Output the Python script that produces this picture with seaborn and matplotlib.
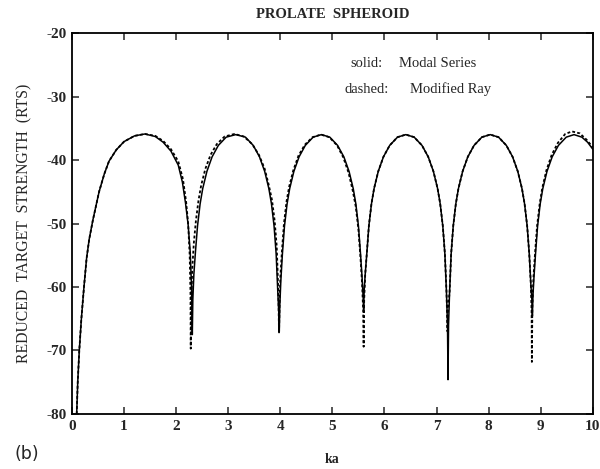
"""
Prolate spheroid RTS vs ka - modal series vs modified ray
"""
import matplotlib
matplotlib.use('Agg')
import matplotlib.pyplot as plt
import seaborn as sns
import pandas as pd

# solid curve: modal series
solid_ka = [0.09, 0.11, 0.14, 0.18, 0.23, 0.28, 0.33, 0.40, 0.52, 0.62, 0.71, 0.85, 1.00, 1.20, 1.40,
            1.60, 1.75, 1.90, 2.04, 2.12, 2.18, 2.23, 2.27, 2.295, 2.31,
            2.32, 2.34, 2.37, 2.41, 2.46, 2.51, 2.59, 2.69, 2.81, 2.96, 3.145, 3.33, 3.48, 3.60, 3.70,
            3.78, 3.83, 3.88, 3.92, 3.95, 3.97, 3.98,
            3.99, 4.01, 4.04, 4.08, 4.13, 4.18, 4.26, 4.36, 4.48, 4.63, 4.79, 4.95, 5.10, 5.22, 5.32,
            5.40, 5.45, 5.50, 5.54, 5.57, 5.59, 5.60,
            5.61, 5.63, 5.66, 5.70, 5.75, 5.80, 5.88, 5.98, 6.10, 6.25, 6.41, 6.57, 6.72, 6.84, 6.94,
            7.02, 7.07, 7.12, 7.16, 7.19, 7.21, 7.22,
            7.23, 7.25, 7.28, 7.32, 7.37, 7.42, 7.50, 7.60, 7.72, 7.87, 8.03, 8.19, 8.34, 8.46, 8.56,
            8.64, 8.69, 8.74, 8.78, 8.81, 8.83, 8.84,
            8.85, 8.87, 8.90, 8.94, 8.99, 9.04, 9.12, 9.22, 9.34, 9.49, 9.64, 9.79, 9.90, 10.0]
solid_rts = [-80, -75, -70, -65, -60, -55.5, -52.5, -49.5, -45, -42.2, -40.2, -38.4, -37.1, -36.2, -35.9,
             -36.3, -37.2, -38.6, -40.8, -43.5, -46.8, -50.2, -54.5, -60, -67.5,
             -62, -58, -54.5, -50.4, -46.9, -44.5, -41.8, -39.5, -37.7, -36.4, -36.0, -36.4, -37.7, -39.5, -41.8,
             -44.5, -46.9, -50.4, -54.8, -60.5, -64, -67.0,
             -63, -59, -54.8, -50.4, -46.9, -44.5, -41.8, -39.5, -37.7, -36.4, -36.0, -36.4, -37.7, -39.5, -41.8,
             -44.5, -46.9, -50.4, -54.8, -58.5, -61.5, -63.6,
             -60.5, -58, -54.8, -50.4, -46.9, -44.5, -41.8, -39.5, -37.7, -36.4, -36.0, -36.4, -37.7, -39.5, -41.8,
             -44.5, -46.9, -50.4, -54.8, -60.8, -66, -74.6,
             -66, -60.8, -54.8, -50.4, -46.9, -44.5, -41.8, -39.5, -37.7, -36.4, -36.0, -36.4, -37.7, -39.5, -41.8,
             -44.5, -46.9, -50.4, -54.8, -59.5, -62, -64.5,
             -61.5, -58.5, -54.8, -50.4, -46.9, -44.5, -41.8, -39.5, -37.7, -36.4, -36.0, -36.4, -37.2, -38.3]

# dashed curve: modified ray
dashed_ka = [0.09, 0.11, 0.14, 0.18, 0.23, 0.28, 0.33, 0.40, 0.52, 0.62, 0.71, 0.85, 1.00, 1.20, 1.40,
             1.60, 1.75, 1.90, 2.04, 2.13, 2.19, 2.23, 2.26, 2.275, 2.28,
             2.29, 2.31, 2.34, 2.38, 2.43, 2.48, 2.56, 2.66, 2.78, 2.93, 3.12, 3.30, 3.46, 3.59, 3.70,
             3.78, 3.84, 3.89, 3.93, 3.95, 3.965, 3.975,
             3.985, 4.00, 4.03, 4.07, 4.12, 4.17, 4.25, 4.35, 4.47, 4.62, 4.78, 4.94, 5.09, 5.21, 5.31,
             5.39, 5.45, 5.50, 5.54, 5.57, 5.59, 5.60,
             5.61, 5.63, 5.66, 5.70, 5.75, 5.80, 5.88, 5.98, 6.10, 6.25, 6.41, 6.57, 6.72, 6.84, 6.94,
             7.02, 7.07, 7.12, 7.16, 7.19, 7.21,
             7.225, 7.25, 7.28, 7.32, 7.37, 7.42, 7.50, 7.60, 7.72, 7.87, 8.03, 8.19, 8.34, 8.46, 8.56,
             8.64, 8.69, 8.74, 8.78, 8.81, 8.825, 8.83,
             8.84, 8.86, 8.89, 8.93, 8.98, 9.03, 9.11, 9.21, 9.33, 9.47, 9.60, 9.75, 9.88, 10.0]
dashed_rts = [-80, -75, -70, -65, -60, -55.5, -52.5, -49.5, -45, -42.2, -40.2, -38.4, -37.1, -36.2, -35.9,
              -36.2, -37.0, -38.3, -40.2, -43.0, -46.5, -50, -55, -61, -69.7,
              -62, -57, -53, -49.5, -46.3, -44, -41.4, -39.2, -37.5, -36.3, -35.9, -36.3, -37.5, -39.2, -41.4,
              -44, -46.3, -49.5, -53.5, -58, -62, -67.3,
              -63, -58.5, -54.5, -50, -46.5, -44.2, -41.6, -39.3, -37.6, -36.4, -36.0, -36.4, -37.7, -39.6, -42,
              -44.8, -47.4, -51, -55.5, -59.5, -63.5, -69.4,
              -62, -58, -54.8, -50.4, -46.9, -44.5, -41.8, -39.5, -37.7, -36.4, -36.0, -36.4, -37.7, -39.5, -41.8,
              -44.5, -46.9, -50.4, -54.8, -60.5, -67,
              -63, -60.8, -54.8, -50.4, -46.9, -44.5, -41.8, -39.5, -37.7, -36.4, -36.0, -36.4, -37.7, -39.5, -41.8,
              -44.5, -46.9, -50.4, -54.8, -59.5, -64, -71.8,
              -63, -58.5, -54.8, -50.4, -46.9, -44.4, -41.6, -39.2, -37.3, -35.9, -35.5, -35.8, -36.8, -38.0]

x_ticks = [0, 1, 2, 3, 4, 5, 6, 7, 8, 9, 10]
y_ticks = [-80, -70, -60, -50, -40, -30, -20]

sns.set_style('ticks')
plt.rcParams['font.family'] = ['Liberation Serif', 'DejaVu Serif']

fig = plt.figure(figsize=(6.0, 4.69), dpi=100)
ax = fig.add_axes([0.12, 0.1173, 0.868, 0.8123])

solid_df = pd.DataFrame({'ka': solid_ka, 'rts': solid_rts})
dashed_df = pd.DataFrame({'ka': dashed_ka, 'rts': dashed_rts})

sns.lineplot(data=dashed_df, x='ka', y='rts', ax=ax, color='black', linewidth=1.3,
             linestyle=(0, (1.6, 1.2)), estimator=None)
sns.lineplot(data=solid_df, x='ka', y='rts', ax=ax, color='black', linewidth=1.1,
             estimator=None)

ax.set_xlim(0, 10)
ax.set_ylim(-80, -20)
ax.set_xticks(x_ticks)
ax.set_yticks(y_ticks)
ax.set_xticklabels([str(t) for t in x_ticks], fontsize=11, fontweight='bold')
ax.set_yticklabels([str(t) for t in y_ticks], fontsize=11, fontweight='bold')
ax.tick_params(direction='in', length=5, width=1.1, top=True, right=True, pad=4,
               labelright=False, labeltop=False)
for sp in ax.spines.values():
    sp.set_linewidth(1.3)
    sp.set_color('black')

ax.set_xlabel('ka', fontsize=10, fontweight='bold', labelpad=15)
ax.set_ylabel('REDUCED  TARGET  STRENGTH  (RTS)', fontsize=11.3, labelpad=10)
ax.set_title('PROLATE  SPHEROID', fontsize=10.5, fontweight='bold', pad=11)

ax.text(0.534, 0.921, 'solid:', transform=ax.transAxes, fontsize=10.5, va='center', ha='left')
ax.text(0.628, 0.921, 'Modal Series', transform=ax.transAxes, fontsize=10.5, va='center', ha='left')
ax.text(0.524, 0.853, 'dashed:', transform=ax.transAxes, fontsize=10.5, va='center', ha='left')
ax.text(0.649, 0.853, 'Modified Ray', transform=ax.transAxes, fontsize=10.5, va='center', ha='left')

fig.text(0.025, 0.012, '(b)', fontsize=12.5, family='DejaVu Sans', va='bottom', ha='left')

fig.savefig('out.png', dpi=100, facecolor='white')
